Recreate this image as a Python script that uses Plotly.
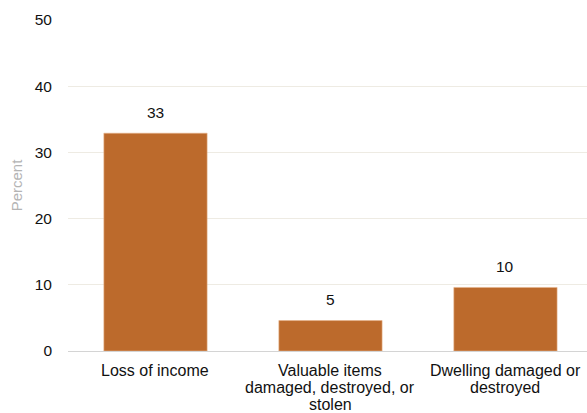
import plotly.graph_objects as go

# Share of households reporting each type of loss
categories = [
    "Loss of income",
    "Valuable items<br>damaged, destroyed, or<br>stolen",
    "Dwelling damaged or<br>destroyed",
]
percent = [32.9, 4.6, 9.6]
y_ticks = [0, 10, 20, 30, 40, 50]

fig = go.Figure(
    go.Bar(
        x=categories,
        y=percent,
        marker=dict(color="#BC6A2C", line=dict(color="#E8B48A", width=0.6)),
        cliponaxis=False,
    )
)

# Rounded value labels above each bar
for cat, val in zip(categories, percent):
    fig.add_annotation(
        x=cat,
        y=val,
        text=f"{val:.0f}",
        showarrow=False,
        yanchor="middle",
        yshift=21,
        font=dict(size=15.5, color="#111111"),
    )

# Category labels under the axis, one annotation per line for tight spacing
for cat in categories:
    for i, line in enumerate(cat.split("<br>")):
        fig.add_annotation(
            x=cat,
            xref="x",
            y=0,
            yref="paper",
            text=line,
            showarrow=False,
            yanchor="middle",
            yshift=-19.5 - 16.8 * i,
            borderpad=0,
            font=dict(size=16, color="#111111"),
        )

fig.update_layout(
    width=587,
    height=413,
    margin=dict(l=68, r=0, t=20, b=62),
    paper_bgcolor="white",
    plot_bgcolor="white",
    font=dict(family="Liberation Sans, Arial, sans-serif", size=15, color="#111111"),
    bargap=0.41,
    showlegend=False,
    xaxis=dict(
        range=[-0.5, 2.466],
        automargin=False,
        showgrid=False,
        showline=True,
        linecolor="#D4D4D4",
        linewidth=1,
        ticks="",
        showticklabels=False,
    ),
    yaxis=dict(
        range=[0, 50],
        automargin=False,
        tickvals=y_ticks,
        showgrid=True,
        gridcolor="#EEEBE3",
        gridwidth=1,
        zeroline=False,
        ticks="",
        ticklabelstandoff=15,
        tickfont=dict(size=15.5),
        title=dict(text="Percent", font=dict(size=15, color="#B4B4B4"), standoff=8),
    ),
)

fig.write_html("out.html")
